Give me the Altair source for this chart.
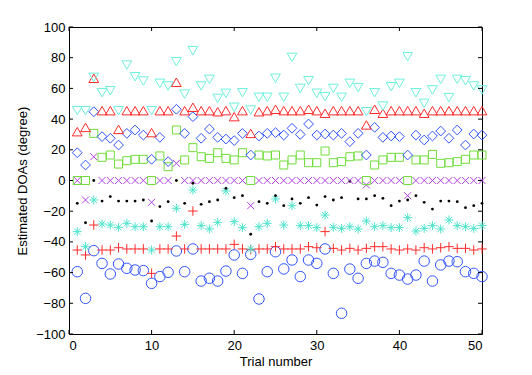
import altair as alt
import pandas as pd

trials = list(range(1, 51))

circle = [-59.4,-76.8,-45.7,-54,-60.9,-54.4,-57.2,-58.3,-58.7,-67,
          -62.6,-59.8,-45.9,-59.4,-44.6,-65.5,-63.7,-65.5,-59,-48.5,
          -60.5,-48.1,-77.2,-59.4,-46.4,-57.6,-51.8,-62.6,-51.8,-54,
          -44.6,-60.5,-86.5,-57.7,-63.7,-54,-52.5,-53.3,-60.5,-61.6,
          -64.2,-61.6,-52.5,-65.5,-55,-52.5,-52.9,-59.4,-60.5,-62.6]
plus = [-45.3,-48.5,-29,-45.3,-45.3,-43.8,-44.6,-44.6,-44.6,-60.5,
        -44.6,-44.6,-36.2,-44.6,-19.9,-44.6,-44.6,-44.6,-44.6,-41.6,
        -44.6,-45,-44.6,-44.6,-43.1,-44.6,-44.6,-44.6,-43.1,-43.8,
        -33.3,-44.2,-45.3,-44.2,-45.3,-44.2,-43.1,-43.1,-44.6,-45.3,
        -44.6,-45.3,-43.8,-44.6,-43.8,-43.1,-44.2,-44.2,-45.3,-44.6]
aster = [-33.3,-43.1,-12.7,-28.3,-29,-30.5,-27.9,-30.1,-30.1,-45.3,
         -30.1,-30.1,-18.1,-28.6,-6.2,-29.4,-31.6,-27.3,-6.8,-26.8,
         -30.7,-44.6,-30.1,-27.9,-12,-29,-16.4,-29.4,-29.4,-30.7,
         -22.5,-30.5,-31.2,-30.1,-31.6,-26.4,-30.1,-29.4,-30.7,-30.7,
         -24.2,-32.9,-31.2,-29.4,-31.6,-25.7,-29.4,-30.1,-31.2,-29.4]
dots = [-14.9,-27.5,0,-13.4,-10.5,-13.4,-13.4,-13.4,-12.7,-26.4,
        -17,-13.8,0,-14.9,-1.8,-15.5,-13.8,-12.7,-5.1,-11.2,
        -9.9,-35,-13.8,-14.9,-9.9,-16.4,-12,-14.9,-11.2,-16,
        -10.5,-12.7,-11.2,-0.5,-12,-12,-9.9,-11.6,-16.4,-13.4,
        -12.7,-9.9,-14.2,-18.6,-13.4,-13.4,-13.8,-17.7,-16.4,-14.9]
crosses = [0,-12.7,15.5,0,0,0,0,0,0,-14.2,
           0,0,11.2,0,0,0,0,0,0,0,
           0,-16.4,0,0,0,0,0,0,0,0,
           0,0,0,0,0,-2.9,0,0,0,0,
           -9.9,0,0,0,0,0,0,0,0,0]
squares = [0,0,30.7,15.1,16.6,10.7,12.9,13.8,13.8,0,
           16,9,32.9,13.4,21.4,15.5,14.4,18.1,14.4,13.4,
           18.1,0,16.6,16,16.6,10.1,13.4,16.6,11.6,11.6,
           19.2,11.6,12.3,15.5,16,0,10.1,13.4,15.1,15.1,
           0,13.4,13.4,17,11.2,11.6,12.3,13.8,16.6,16.6]
diamonds = [18.1,10.1,44.8,28.6,27.5,23.1,30.7,32.9,29.6,13.8,
            28.1,12.3,46.4,30.7,41.6,27.5,33.5,28.1,27,26,
            30.7,16.6,29,30.7,31.2,29.6,34,30,36.8,29.6,
            30.3,29.6,30.7,25.3,30.7,16.6,34.6,28.1,29,28.6,
            16.6,29.6,26.4,29,32.2,27.5,32.9,23.1,30.3,29.6]
tri_up = [31.8,34.6,66.6,45.5,45.5,33.3,45.5,45.5,45.5,31.2,
          45.5,45.5,64,45.5,47.7,45.5,45.5,44.8,45.5,41.6,
          45.5,30.7,44.8,45.5,46.4,45.5,45.5,45.5,46.4,45.5,
          43.8,45.5,45.5,45.5,45.5,36.2,46.4,43.8,45.5,45.5,
          45.5,45.5,43.8,45.5,45.5,45.5,45.5,45.5,45.5,45.5]
tri_down = [45.5,45.5,67.2,57.2,58.5,45.5,75.2,67.6,64.8,45.5,
            63.3,61.6,77.4,56.3,84.6,61.6,65.9,53.5,56.8,47.7,
            57.2,45.9,54.2,54.2,66.6,54.2,80.2,60,65,56.8,
            54.6,60,54.2,63.3,60.5,44.8,57.2,48.5,61.1,63.3,
            80.7,57.2,50.3,59,65.9,54,65.9,65,61.6,59]

x_ticks = [0, 10, 20, 30, 40, 50]
y_ticks = [-100, -80, -60, -40, -20, 0, 20, 40, 60, 80, 100]

W, H = 413, 307
TL = 4

series = [
    ("circle", circle, "circle", "#3355ff", 110, False),
    ("plus", plus, "M-1,0L1,0M0,-1L0,1", "#ff2a2a", 90, False),
    ("aster", aster, "M-1,0L1,0M0,-1L0,1M-0.7,-0.7L0.7,0.7M-0.7,0.7L0.7,-0.7", "#50e3cc", 80, False),
    ("dot", dots, "circle", "#000000", 8, True),
    ("cross", crosses, "M-1,-1L1,1M-1,1L1,-1", "#b040e0", 49, False),
    ("square", squares, "square", "#70dd3a", 64, False),
    ("diamond", diamonds, "diamond", "#3355ff", 95, False),
    ("triup", tri_up, "triangle-up", "#ff2a2a", 95, False),
    ("tridown", tri_down, "triangle-down", "#6ef0dc", 95, False),
]

xscale = alt.Scale(domain=[0, 50], nice=False, zero=False)
yscale = alt.Scale(domain=[-100, 100], nice=False, zero=False)
xaxis = alt.Axis(values=x_ticks, tickSize=0, domain=False, grid=False,
                 labelOverlap=False, labelPadding=5, title="Trial number",
                 titlePadding=3)
yaxis = alt.Axis(values=y_ticks, tickSize=0, domain=False, grid=False,
                 labelOverlap=False, labelPadding=4,
                 title="Estimated DOAs (degree)", titlePadding=6)

layers = []
for name, vals, shape, color, size, filled in series:
    df = pd.DataFrame({"trial": trials, "value": vals})
    mk = alt.Chart(df).mark_point(shape=shape, color=color, size=size,
                                  filled=filled, strokeWidth=1, opacity=1)
    layers.append(mk.encode(
        x=alt.X("trial:Q", scale=xscale, axis=xaxis),
        y=alt.Y("value:Q", scale=yscale, axis=yaxis),
    ))

xt = pd.DataFrame({"t": x_ticks})
yt = pd.DataFrame({"v": y_ticks})
tick_style = dict(color="black", strokeWidth=1)
layers.append(alt.Chart(xt).mark_rule(**tick_style).encode(
    x=alt.X("t:Q", scale=xscale, axis=xaxis), y=alt.value(H), y2=alt.value(H - TL)))
layers.append(alt.Chart(xt).mark_rule(**tick_style).encode(
    x=alt.X("t:Q", scale=xscale, axis=xaxis), y=alt.value(0), y2=alt.value(TL)))
layers.append(alt.Chart(yt).mark_rule(**tick_style).encode(
    y=alt.Y("v:Q", scale=yscale, axis=yaxis), x=alt.value(0), x2=alt.value(TL)))
layers.append(alt.Chart(yt).mark_rule(**tick_style).encode(
    y=alt.Y("v:Q", scale=yscale, axis=yaxis), x=alt.value(W), x2=alt.value(W - TL)))

chart = alt.layer(*layers).properties(
    width=W, height=H,
    autosize=alt.AutoSizeParams(type="none"),
    padding={"left": 61, "top": 19, "right": 30, "bottom": 33},
    background="white",
).configure_view(stroke="black", strokeWidth=1).configure_axis(
    labelFont="Liberation Sans", titleFont="Liberation Sans",
    labelFontSize=13, titleFontSize=13, labelColor="black", titleColor="black",
    titleFontWeight="normal", labelOverlap=False,
)

chart.save("out.html", embed_options={"renderer": "svg", "actions": False})
